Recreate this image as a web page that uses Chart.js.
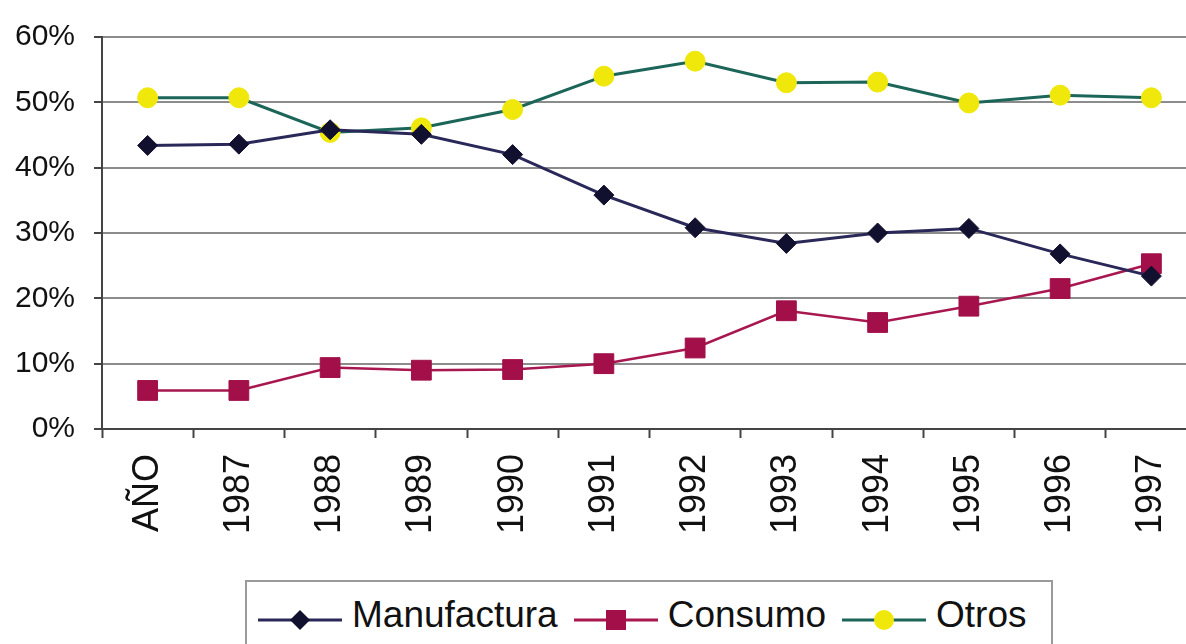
<!DOCTYPE html>
<html lang="es">
<head>
    <meta charset="UTF-8">
    <title>Manufactura, Consumo, Otros</title>
    <style>
        body {
            margin: 0;
            background: #fff;
            overflow: hidden;
            font-family: "Liberation Sans", Arial, sans-serif;
        }
        .wrap {
            position: relative;
            width: 1212px;
            height: 644px;
        }
        .legend {
            position: absolute;
            left: 245px;
            top: 580px;
            width: 808px;
            height: 80px;
            border: 2px solid #9a9a9a;
            background: #fff;
            box-sizing: border-box;
            display: flex;
            align-items: flex-start;
            padding-left: 11px;
            padding-top: 10px;
        }
        .item {
            display: flex;
            align-items: center;
            font-size: 37px;
            color: #111;
            margin-right: 16px;
        }
        .item svg {
            margin-right: 10px;
            margin-top: 10px;
        }
    </style>
    <script src="https://cdn.jsdelivr.net/npm/chart.js"></script>
</head>
<body>
    <div class="wrap">
        <canvas id="chart" width="1212" height="644"></canvas>
        <div class="legend" id="legend"></div>
    </div>

    <script>
        // values (percent)
        const years = ['AÑO', '1987', '1988', '1989', '1990', '1991', '1992', '1993', '1994', '1995', '1996', '1997'];
        const manufactura = [43.4, 43.6, 45.8, 45.1, 42.0, 35.8, 30.8, 28.4, 30.0, 30.7, 26.8, 23.4];
        const consumo = [5.9, 5.9, 9.4, 9.0, 9.1, 10.0, 12.4, 18.1, 16.3, 18.8, 21.5, 25.3];
        const otros = [50.7, 50.7, 45.4, 46.1, 48.9, 54.0, 56.3, 53.0, 53.1, 49.9, 51.1, 50.7];
        const yTicks = [0, 10, 20, 30, 40, 50, 60];

        const series = [
            { label: 'Manufactura', data: manufactura, line: '#2a2858', fill: '#12102f', style: 'rectRot', r: 10, w: 3 },
            { label: 'Consumo', data: consumo, line: '#a8174f', fill: '#a20f49', style: 'rect', r: 14, w: 2.5 },
            { label: 'Otros', data: otros, line: '#1c6659', fill: '#f0e80a', style: 'circle', r: 10, w: 3 }
        ];

        const font = '"Liberation Sans", Arial, sans-serif';

        new Chart(document.getElementById('chart'), {
            type: 'line',
            data: {
                labels: years,
                datasets: series.map(s => ({
                    label: s.label,
                    data: s.data,
                    borderColor: s.line,
                    borderWidth: s.w,
                    backgroundColor: s.fill,
                    pointBackgroundColor: s.fill,
                    pointBorderColor: s.fill,
                    pointBorderWidth: 1,
                    pointStyle: s.style,
                    pointRadius: s.r,
                    tension: 0
                }))
            },
            options: {
                responsive: false,
                animation: false,
                layout: { padding: { top: 30, left: 0, right: 0, bottom: 0 } },
                plugins: {
                    legend: { display: false },
                    tooltip: { enabled: false }
                },
                scales: {
                    x: {
                        offset: true,
                        afterFit: s => { s.height = 215; },
                        grid: {
                            drawOnChartArea: false,
                            drawTicks: true,
                            tickLength: 9,
                            tickWidth: 2,
                            tickColor: '#444',
                            offset: true
                        },
                        border: { color: '#444', width: 2 },
                        ticks: {
                            minRotation: 90,
                            maxRotation: 90,
                            autoSkip: false,
                            padding: 16,
                            color: '#111',
                            font: { family: font, size: 36 }
                        }
                    },
                    y: {
                        min: 0,
                        max: 60,
                        afterFit: s => { s.width = 102; },
                        afterBuildTicks: s => { s.ticks = yTicks.map(v => ({ value: v })); },
                        grid: {
                            color: '#8c8c8c',
                            lineWidth: 2,
                            tickLength: 8,
                            tickColor: '#444'
                        },
                        border: { color: '#444', width: 2 },
                        ticks: {
                            padding: 19,
                            color: '#111',
                            font: { family: font, size: 30 },
                            callback: v => v + '%'
                        }
                    }
                }
            }
        });

        // legend box under the chart
        const legend = document.getElementById('legend');
        series.forEach(s => {
            let mark;
            if (s.style === 'rectRot') {
                mark = `<polygon points="42,8 52,18 42,28 32,18" fill="${s.fill}"/>`;
            } else if (s.style === 'rect') {
                mark = `<rect x="32" y="8" width="20" height="20" fill="${s.fill}"/>`;
            } else {
                mark = `<circle cx="42" cy="18" r="10" fill="${s.fill}"/>`;
            }
            const item = document.createElement('div');
            item.className = 'item';
            item.innerHTML = `<svg width="84" height="36"><line x1="0" y1="18" x2="84" y2="18" stroke="${s.line}" stroke-width="3"/>${mark}</svg>${s.label}`;
            legend.appendChild(item);
        });
    </script>
</body>
</html>
